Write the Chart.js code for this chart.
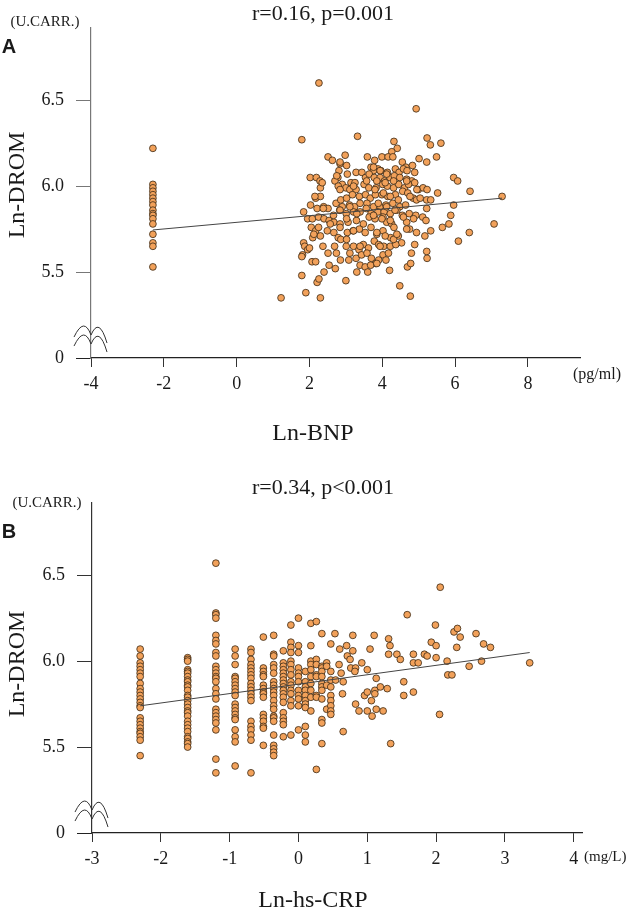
<!DOCTYPE html>
<html>
<head>
<meta charset="utf-8">
<script src="https://cdn.jsdelivr.net/npm/chart.js@4.4.1/dist/chart.umd.min.js"></script>
<style>
  body { margin: 0; background: #fff; width: 628px; height: 909px; position: relative; overflow: hidden;
         font-family: "Liberation Serif", "Times New Roman", serif; color: #1a1a1a; }
  canvas { position: absolute; left: 0; }
  .t { position: absolute; white-space: nowrap; line-height: 1; transform: translate(-50%, -50%); }
  .l { position: absolute; white-space: nowrap; line-height: 1; transform: translateY(-50%); }
  .big { font-size: 24px; }
  .ttl { font-size: 22px; }
  .unit { font-size: 15px; }
  .lab { font-family: "Liberation Sans", Arial, sans-serif; font-weight: bold; font-size: 20px; }
  .rot { transform: translate(-50%, -50%) rotate(-90deg); }
</style>
</head>
<body>
<canvas id="chartA" width="628" height="455" style="top:0"></canvas>
<canvas id="chartB" width="628" height="454" style="top:455px"></canvas>

<div class="t ttl" style="left:323px;top:13px">r=0.16, p=0.001</div>
<div class="t lab" style="left:9px;top:46px">A</div>
<div class="t unit" style="left:45px;top:21px">(U.CARR.)</div>
<div class="t big rot" style="left:16px;top:185px">Ln-DROM</div>
<div class="t big" style="left:313px;top:432px">Ln-BNP</div>
<div class="l unit" style="left:573px;top:374px;font-size:16px">(pg/ml)</div>

<div class="t ttl" style="left:323px;top:487px">r=0.34, p&lt;0.001</div>
<div class="t lab" style="left:9px;top:531px">B</div>
<div class="t unit" style="left:47px;top:502px">(U.CARR.)</div>
<div class="t big rot" style="left:16px;top:664px">Ln-DROM</div>
<div class="t big" style="left:313px;top:899px">Ln-hs-CRP</div>
<div class="l unit" style="left:584px;top:856px">(mg/L)</div>

<script>
// shared y axis: the "0" tick sits where 5.0 would be (broken axis)
const yTicks = [5, 5.5, 6, 6.5];

// ---- panel A: Ln-BNP vs Ln-DROM ----
const bnpXTicks = [-4, -2, 0, 2, 4, 6, 8];
const bnpFloorX = -2.3;
const bnpFloorDrom = [6.22, 6.01, 5.99, 5.97, 5.95, 5.93, 5.91, 5.89, 5.86, 5.84, 5.83, 5.81, 5.78, 5.72, 5.67, 5.65, 5.53];
const bnpPairs = [
  [2.26,6.60],[4.93,6.45],[1.79,6.27],[3.32,6.29],[5.23,6.28],[5.61,6.25],[5.32,6.24],[4.32,6.26],[4.41,6.22],[4.26,6.20],
  [5.49,6.17],[5.01,6.16],[5.22,6.14],[2.98,6.18],[2.51,6.17],[2.63,6.15],[2.84,6.13],[3.59,6.17],[3.79,6.15],[3.99,6.17],
  [4.16,6.17],[4.29,6.17],[4.55,6.14],[4.65,6.11],[4.83,6.12],[4.89,6.08],[2.81,6.09],[3.04,6.07],[3.28,6.08],[3.44,6.08],
  [3.69,6.11],[3.88,6.10],[3.76,6.09],[3.96,6.09],[4.14,6.08],[4.36,6.10],[4.46,6.08],[4.58,6.10],[4.68,6.09],[2.02,6.05],
  [2.19,6.05],[2.29,6.03],[2.78,6.05],[2.70,6.03],[2.90,6.01],[3.14,6.02],[3.25,6.02],[3.54,6.05],[3.64,6.07],[3.78,6.05],
  [3.94,6.05],[4.06,6.03],[4.21,6.05],[4.33,6.06],[4.48,6.05],[4.67,6.04],[4.81,6.03],[4.89,6.02],[5.96,6.05],[6.07,6.03],
  [2.30,5.99],[2.17,5.93],[2.30,5.94],[2.79,6.00],[3.00,5.99],[3.11,5.98],[3.28,5.98],[3.50,6.01],[3.63,5.99],[3.83,5.99],
  [4.01,6.01],[4.14,6.00],[4.31,5.99],[4.45,6.01],[4.61,5.99],[4.72,6.01],[4.99,5.98],[5.12,5.99],[5.23,5.98],[6.41,5.97],
  [5.52,5.96],[2.03,5.89],[1.84,5.85],[1.95,5.81],[2.21,5.87],[2.39,5.88],[2.51,5.87],[2.73,5.90],[2.86,5.92],[3.02,5.93],
  [3.18,5.95],[3.37,5.94],[3.54,5.95],[3.67,5.93],[3.81,5.95],[3.99,5.95],[4.15,5.94],[4.36,5.95],[4.56,5.97],[4.70,5.96],
  [4.85,5.93],[4.94,5.92],[5.04,5.93],[5.22,5.92],[5.33,5.92],[7.29,5.94],[5.96,5.89],[5.22,5.87],[2.90,5.88],[3.10,5.89],
  [3.24,5.88],[3.39,5.90],[3.58,5.90],[3.76,5.88],[3.94,5.88],[4.10,5.89],[4.29,5.90],[4.48,5.88],[4.64,5.89],[2.83,5.86],
  [3.01,5.84],[3.21,5.85],[3.39,5.85],[3.56,5.87],[3.69,5.84],[3.88,5.85],[4.05,5.85],[4.22,5.84],[4.40,5.86],[4.55,5.83],
  [4.74,5.84],[4.92,5.83],[5.11,5.82],[5.20,5.80],[5.88,5.83],[5.83,5.78],[5.65,5.76],[5.33,5.74],[7.07,5.78],[6.39,5.73],
  [6.09,5.68],[4.94,5.73],[5.17,5.71],[4.89,5.66],[4.80,5.61],[5.22,5.62],[5.23,5.58],[4.69,5.53],[4.78,5.55],[4.48,5.42],
  [4.77,5.36],[2.08,5.81],[2.25,5.82],[2.40,5.81],[2.54,5.80],[2.67,5.79],[2.49,5.74],[2.57,5.78],[2.84,5.78],[3.06,5.79],
  [3.29,5.80],[3.48,5.78],[3.64,5.82],[3.80,5.81],[4.02,5.82],[4.12,5.79],[4.26,5.78],[4.32,5.76],[4.67,5.79],[4.75,5.75],
  [2.05,5.76],[2.17,5.74],[2.09,5.70],[2.25,5.76],[2.30,5.71],[2.12,5.72],[2.67,5.73],[2.79,5.70],[3.04,5.73],[3.20,5.74],
  [3.37,5.75],[3.53,5.73],[3.69,5.76],[3.85,5.72],[4.02,5.74],[4.23,5.70],[4.44,5.71],[4.53,5.67],[1.84,5.67],[1.87,5.65],
  [1.95,5.63],[2.00,5.64],[1.81,5.60],[1.79,5.59],[2.07,5.56],[2.17,5.56],[2.37,5.65],[2.51,5.61],[2.69,5.65],[2.86,5.69],
  [3.01,5.65],[3.11,5.61],[3.21,5.65],[3.36,5.63],[3.48,5.66],[3.62,5.64],[3.78,5.68],[3.90,5.66],[4.04,5.65],[4.22,5.65],
  [4.37,5.66],[3.08,5.57],[3.28,5.58],[3.43,5.60],[3.58,5.61],[3.70,5.58],[3.82,5.55],[4.02,5.60],[4.10,5.57],[3.90,5.57],
  [2.85,5.57],[2.74,5.61],[3.39,5.54],[3.53,5.53],[3.68,5.54],[3.30,5.50],[3.60,5.50],[2.54,5.54],[2.71,5.52],[2.40,5.50],
  [2.21,5.44],[2.26,5.46],[1.79,5.48],[3.00,5.45],[1.90,5.38],[1.22,5.35],[2.30,5.35],[4.20,5.51],[3.76,6.11],[3.94,6.09],
  [4.12,6.07],[3.85,6.03],[4.08,6.02],[4.31,6.03],[3.80,5.98],[4.03,5.96],[4.22,5.94],[4.44,5.92],[3.89,5.90],[4.12,5.88],
  [4.35,5.86],[3.76,5.83],[3.99,5.81],[4.22,5.80],[3.85,5.73],[4.08,5.71],[4.31,5.69],[3.94,5.65],[4.17,5.61],[3.85,5.55],
  [4.67,6.03],[4.76,5.94],[4.95,5.98],[4.58,5.82],[4.86,5.81],[4.67,5.75],[4.40,5.72],[2.35,6.02],[2.15,5.94],[2.38,5.87],
  [2.84,5.86],[3.11,5.88],[2.66,5.83],[3.02,5.81],[3.30,5.84],[2.84,5.76],[3.21,5.74],[3.02,5.69],[3.39,5.65],[2.84,5.98],
  [3.21,6.00],[3.57,6.03],[2.75,6.06],[3.02,6.12],[2.84,6.14]
];
const bnpFit = [[-2.3, 5.745], [7.29, 5.93]];

// ---- panel B: Ln-hs-CRP vs Ln-DROM ----
const crpXTicks = [-3, -2, -1, 0, 1, 2, 3, 4];
const crpLevels = [-2.30, -1.61, -1.20, -0.92, -0.69, -0.51, -0.36, -0.22, -0.11, 0, 0.10, 0.18, 0.26, 0.34, 0.41, 0.47];
const dromByLevel = [
  [6.07, 6.03, 5.99, 5.97, 5.95, 5.93, 5.91, 5.87, 5.84, 5.82, 5.80, 5.78, 5.76, 5.74, 5.73, 5.67, 5.65, 5.63, 5.61, 5.59, 5.58, 5.56, 5.54, 5.45],
  [6.02, 6.01, 6.00, 5.95, 5.94, 5.93, 5.91, 5.89, 5.88, 5.86, 5.85, 5.83, 5.80, 5.79, 5.77, 5.75, 5.73, 5.71, 5.70, 5.68, 5.65, 5.63, 5.61, 5.59, 5.56, 5.55, 5.53, 5.52, 5.50],
  [6.57, 6.28, 6.27, 6.25, 6.15, 6.12, 6.10, 6.05, 6.03, 5.97, 5.95, 5.93, 5.91, 5.90, 5.88, 5.84, 5.81, 5.78, 5.72, 5.70, 5.68, 5.66, 5.64, 5.60, 5.43, 5.35],
  [6.07, 6.03, 5.98, 5.91, 5.90, 5.88, 5.86, 5.84, 5.82, 5.80, 5.75, 5.73, 5.71, 5.69, 5.67, 5.66, 5.60, 5.56, 5.53, 5.39],
  [6.07, 6.05, 6.01, 5.98, 5.96, 5.94, 5.92, 5.90, 5.87, 5.85, 5.83, 5.81, 5.79, 5.77, 5.65, 5.62, 5.60, 5.57, 5.54, 5.35],
  [6.14, 5.96, 5.94, 5.92, 5.91, 5.86, 5.84, 5.82, 5.81, 5.79, 5.69, 5.67, 5.65, 5.62, 5.61, 5.51],
  [6.15, 6.04, 6.03, 5.98, 5.96, 5.93, 5.88, 5.86, 5.84, 5.82, 5.80, 5.77, 5.74, 5.72, 5.68, 5.67, 5.65, 5.57, 5.51, 5.49, 5.47, 5.45],
  [6.06, 5.99, 5.97, 5.95, 5.93, 5.91, 5.89, 5.87, 5.85, 5.83, 5.81, 5.79, 5.76, 5.70, 5.67, 5.65, 5.63, 5.56],
  [6.21, 6.11, 6.08, 6.05, 6.00, 5.98, 5.95, 5.92, 5.88, 5.86, 5.83, 5.81, 5.77, 5.74, 5.57],
  [6.25, 6.09, 6.05, 5.96, 5.93, 5.91, 5.88, 5.83, 5.80, 5.78, 5.74, 5.60],
  [5.94, 5.88, 5.85, 5.83, 5.80, 5.77, 5.75, 5.73, 5.62, 5.57, 5.53],
  [6.22, 6.09, 6.00, 5.98, 5.95, 5.91, 5.87, 5.83, 5.79, 5.71],
  [6.23, 6.01, 5.98, 5.92, 5.91, 5.80, 5.79, 5.37],
  [6.16, 5.97, 5.96, 5.94, 5.91, 5.87, 5.85, 5.83, 5.78, 5.66, 5.64, 5.52],
  [5.99, 5.97, 5.86, 5.72],
  [6.10, 5.94, 5.89, 5.85, 5.80, 5.77, 5.74, 5.71, 5.69]
];
const crpPairs = [
  [0.53,6.16],[0.54,5.89],[0.60,6.07],[0.59,5.98],[0.62,5.93],[0.65,5.88],[0.64,5.81],[0.65,5.59],[0.70,6.09],[0.71,6.03],
  [0.75,6.01],[0.76,5.96],[0.79,6.15],[0.79,6.06],[0.83,5.96],[0.82,5.94],[0.83,5.75],[0.88,5.71],[0.92,5.99],[0.96,5.80],
  [1.00,5.95],[1.00,5.82],[1.00,5.71],[1.04,6.07],[1.06,5.77],[1.07,5.68],[1.10,6.15],[1.11,5.83],[1.11,5.81],[1.13,5.72],
  [1.13,5.90],[1.19,5.85],[1.23,5.71],[1.29,5.84],[1.31,6.13],[1.33,6.09],[1.31,6.04],[1.34,5.52],[1.43,6.04],[2.06,6.43],
  [1.58,6.27],[1.48,6.01],[1.99,6.21],[2.26,6.17],[2.31,6.19],[2.35,6.14],[2.58,6.16],[1.93,6.11],[2.00,6.09],[2.30,6.08],
  [2.69,6.10],[2.79,6.08],[1.67,6.04],[1.83,6.04],[1.87,6.03],[2.00,6.02],[2.16,6.00],[1.67,5.99],[1.74,5.99],[2.48,5.97],
  [2.66,6.00],[3.36,5.99],[2.17,5.92],[2.23,5.92],[1.53,5.88],[1.53,5.80],[1.67,5.82],[2.05,5.69]
];
const crpFit = [[-2.3, 5.74], [3.36, 6.05]];

const toXY = p => ({x: p[0], y: p[1]});

const pointsA = bnpFloorDrom.map(v => ({x: bnpFloorX, y: v})).concat(bnpPairs.map(toXY));
const pointsB = [];
crpLevels.forEach((lv, i) => dromByLevel[i].forEach(v => pointsB.push({x: lv, y: v})));
crpPairs.forEach(p => pointsB.push(toXY(p)));

// little double wave that marks the broken y axis
const axisBreak = {
  id: 'axisBreak',
  afterDraw(chart) {
    const ctx = chart.ctx;
    const x0 = chart.chartArea.left;
    const y0 = chart.scales.y.getPixelForValue(5.186);
    ctx.save();
    ctx.strokeStyle = '#333';
    ctx.lineWidth = 1;
    [0, 9].forEach(dy => {
      const y = y0 + dy;
      ctx.beginPath();
      ctx.moveTo(x0 - 17, y + 11);
      ctx.quadraticCurveTo(x0 - 7, y - 10, x0, y + 9);
      ctx.quadraticCurveTo(x0 + 8, y - 10, x0 + 16, y + 17);
      ctx.stroke();
    });
    ctx.restore();
  }
};

function makeChart(id, o) {
  const tickFont = {family: 'Liberation Serif', size: 18};
  return new Chart(document.getElementById(id), {
    type: 'scatter',
    data: {
      datasets: [
        {type: 'line', data: o.fit.map(toXY), borderColor: '#444', borderWidth: 1,
         pointRadius: 0, fill: false, order: 0},
        {data: o.points, backgroundColor: '#F2A15A', borderColor: '#3a2814', borderWidth: 0.8,
         pointRadius: 3.4, pointHoverRadius: 3.4, order: 1}
      ]
    },
    options: {
      responsive: false,
      animation: false,
      events: [],
      layout: {padding: {top: o.top, right: 628 - o.right, left: 0, bottom: 0}},
      plugins: {legend: {display: false}, tooltip: {enabled: false}},
      scales: {
        x: {
          type: 'linear', min: o.xMin, max: o.xMax,
          afterFit: s => { s.height = o.h - o.bottom; },
          afterBuildTicks: s => { s.ticks = o.xTicks.map(v => ({value: v})); },
          grid: {drawOnChartArea: false, drawTicks: true, tickLength: 9, tickColor: '#333'},
          border: {display: true, color: '#222', width: 1.2},
          ticks: {padding: 6, color: '#1a1a1a', font: tickFont, maxRotation: 0, callback: v => String(v)}
        },
        y: {
          type: 'linear', min: 5, max: 6.92,
          afterFit: s => { s.width = o.left; },
          afterBuildTicks: s => { s.ticks = yTicks.map(v => ({value: v})); },
          grid: {drawOnChartArea: false, drawTicks: true, tickLength: 15,
                 tickColor: c => (c.tick && c.tick.value === 5) ? '#222' : o.yColor},
          border: {display: true, color: o.yColor, width: 1.2},
          ticks: {padding: 12, color: '#1a1a1a', font: tickFont,
                  callback: v => v === 5 ? '0' : v.toFixed(1)}
        }
      }
    },
    plugins: [axisBreak]
  });
}

makeChart('chartA', {points: pointsA, fit: bnpFit, xTicks: bnpXTicks, xMin: -4, xMax: 9.43,
  top: 28, bottom: 358, left: 91, right: 580, h: 455, yColor: '#777'});
makeChart('chartB', {points: pointsB, fit: crpFit, xTicks: crpXTicks, xMin: -3, xMax: 4.12,
  top: 48, bottom: 378, left: 92, right: 582, h: 454, yColor: '#333'});
</script>
</body>
</html>
